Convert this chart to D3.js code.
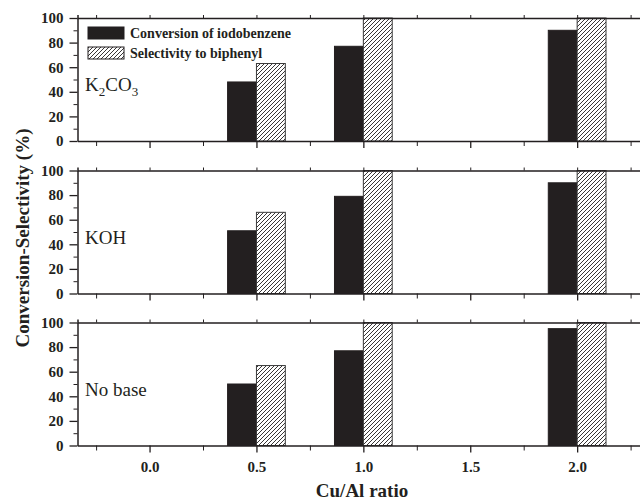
<!DOCTYPE html>
<html>
<head>
<meta charset="utf-8">
<title>Cu/Al ratio</title>
<script src="https://d3js.org/d3.v7.min.js"></script>
<style>
body { margin: 0; padding: 0; background: #fff; }
svg { display: block; }
.axis path, .axis line { stroke: #231f20; }
.axis text { font-family: "Liberation Serif", serif; font-weight: bold; font-size: 15px; fill: #231f20; }
</style>
</head>
<body>
<div id="chart"></div>
<script>
// data
var ratios = [0.5, 1.0, 2.0];
var panels = ["K2CO3", "KOH", "No base"];
var convK2CO3 = [48, 77, 90];
var selK2CO3  = [63, 100, 100];
var convKOH   = [51, 79, 90];
var selKOH    = [66, 100, 100];
var convNone  = [50, 77, 95];
var selNone   = [65, 100, 100];
var xMajor = [0, 0.5, 1.0, 1.5, 2.0];
var xMinor = [-0.25, 0.25, 0.75, 1.25, 1.75, 2.25];
var yMajor = [0, 20, 40, 60, 80, 100];
var yMinor = [10, 30, 50, 70, 90];
var seriesNames = ["Conversion of iodobenzene", "Selectivity to biphenyl"];

var conv = [convK2CO3, convKOH, convNone];
var sel = [selK2CO3, selKOH, selNone];

var W = 640, H = 502;
var left = 77.5;
var panelTop = [18, 170.5, 322.5];
var panelH = 123;
var barW = 0.135;

var svg = d3.select('#chart').append('svg')
  .attr('width', W).attr('height', H);

var defs = svg.append('defs');
var pat = defs.append('pattern')
  .attr('id', 'hatch')
  .attr('patternUnits', 'userSpaceOnUse')
  .attr('width', 4).attr('height', 4);
pat.append('rect').attr('width', 4).attr('height', 4).attr('fill', '#fff');
pat.append('path')
  .attr('d', 'M-1,1 l2,-2 M0,4 l4,-4 M3,5 l2,-2')
  .attr('stroke', '#231f20').attr('stroke-width', 0.9);

var x = d3.scaleLinear()
  .domain([-0.337, 2.6])
  .range([left, left + 2.937 * 213.8]);

panels.forEach(function(name, i) {
  var top = panelTop[i], bottom = top + panelH;
  var y = d3.scaleLinear().domain([0, 100]).range([bottom, top]);
  var g = svg.append('g');

  // bars
  g.selectAll('.conv').data(conv[i]).enter().append('rect')
    .attr('x', function(d, j) { return x(ratios[j] - barW); })
    .attr('width', function(d, j) { return x(ratios[j]) - x(ratios[j] - barW); })
    .attr('y', function(d) { return y(d); })
    .attr('height', function(d) { return y(0) - y(d); })
    .attr('fill', '#231f20')
    .attr('stroke', '#231f20').attr('stroke-width', 1);

  g.selectAll('.sel').data(sel[i]).enter().append('rect')
    .attr('x', function(d, j) { return x(ratios[j]); })
    .attr('width', function(d, j) { return x(ratios[j] + barW) - x(ratios[j]); })
    .attr('y', function(d) { return y(d); })
    .attr('height', function(d) { return y(0) - y(d); })
    .attr('fill', 'url(#hatch)')
    .attr('stroke', '#3a3a3a').attr('stroke-width', 1);

  // top line with small ticks
  g.append('g').attr('class', 'axis')
    .attr('transform', 'translate(0,' + top + ')')
    .call(d3.axisTop(x).tickValues(xMajor.concat(xMinor)).tickSize(3).tickFormat(''))
    .select('.domain').attr('stroke-width', 1.5);

  // left axis
  g.append('g').attr('class', 'axis')
    .attr('transform', 'translate(' + left + ',0)')
    .call(d3.axisLeft(y).tickValues(yMinor).tickSize(4).tickFormat(''))
    .select('.domain').remove();
  g.append('g').attr('class', 'axis')
    .attr('transform', 'translate(' + left + ',0)')
    .call(d3.axisLeft(y).tickValues(yMajor).tickSize(8).tickSizeOuter(0).tickPadding(6))
    .call(function(a) {
      a.select('.domain').attr('stroke-width', 1.5);
      a.selectAll('.tick line').attr('stroke-width', 1.3);
    });

  // bottom axis
  g.append('g').attr('class', 'axis')
    .attr('transform', 'translate(0,' + bottom + ')')
    .call(d3.axisBottom(x).tickValues(xMinor).tickSize(5).tickFormat(''))
    .select('.domain').remove();
  g.append('g').attr('class', 'axis')
    .attr('transform', 'translate(0,' + bottom + ')')
    .call(d3.axisBottom(x).tickValues(xMajor).tickSize(7).tickSizeOuter(0).tickPadding(9)
      .tickFormat(i == 2 ? d3.format('.1f') : ''))
    .call(function(a) {
      a.select('.domain').attr('stroke-width', 1.5);
      a.selectAll('.tick line').attr('stroke-width', 1.3);
    });

  // base label
  var lab = g.append('text')
    .attr('x', 85).attr('y', bottom - 50)
    .attr('font-family', '"Liberation Serif", serif')
    .attr('font-size', 19).attr('fill', '#231f20');
  if (name == 'K2CO3') {
    lab.append('tspan').text('K');
    lab.append('tspan').attr('font-size', 13).attr('dy', 5).text('2');
    lab.append('tspan').attr('dy', -5).text('CO');
    lab.append('tspan').attr('font-size', 13).attr('dy', 5).text('3');
  } else {
    lab.text(name);
  }
});

// legend
var leg = svg.append('g');
leg.selectAll('rect').data(seriesNames).enter().append('rect')
  .attr('x', 88).attr('y', function(d, i) { return 27 + i * 20; })
  .attr('width', 36).attr('height', 12)
  .attr('fill', function(d, i) { return i == 0 ? '#231f20' : 'url(#hatch)'; })
  .attr('stroke', '#231f20').attr('stroke-width', 1);
leg.selectAll('text').data(seriesNames).enter().append('text')
  .attr('x', 130).attr('y', function(d, i) { return 37.5 + i * 20; })
  .attr('font-family', '"Liberation Serif", serif')
  .attr('font-weight', 'bold').attr('font-size', 14)
  .attr('fill', '#231f20')
  .text(function(d) { return d; });

// axis titles
svg.append('text')
  .attr('transform', 'translate(29,238) rotate(-90)')
  .attr('text-anchor', 'middle')
  .attr('font-family', '"Liberation Serif", serif')
  .attr('font-weight', 'bold').attr('font-size', 19)
  .attr('fill', '#231f20')
  .text('Conversion-Selectivity (%)');

svg.append('text')
  .attr('x', 362).attr('y', 497)
  .attr('text-anchor', 'middle')
  .attr('font-family', '"Liberation Serif", serif')
  .attr('font-weight', 'bold').attr('font-size', 19)
  .attr('fill', '#231f20')
  .text('Cu/Al ratio');
</script>
</body>
</html>
